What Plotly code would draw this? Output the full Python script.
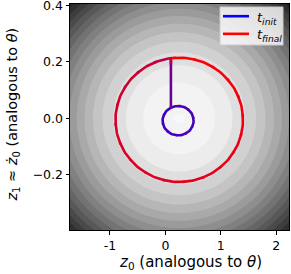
import numpy as np
import plotly.graph_objects as go

# ---- data ----
X_RANGE = [-1.72, 2.23]
Y_RANGE = [-0.395, 0.405]
X_TICKS = [-1, 0, 1, 2]
Y_TICKS = [-0.2, 0.0, 0.2, 0.4]

# energy landscape: E = (z0 - c0)^2 + (K * (z1 - c1))^2
ENERGY_CENTER = (0.25, 0.0)
ENERGY_K = 5.1
LEVEL_START = 0.42
LEVEL_STEP = 0.5

# trajectory: small initial orbit, a jump, then final orbit
SMALL_CENTER = (0.23, -0.008)
SMALL_RADII = (0.28, 0.052)
BIG_CENTER = (0.25, -0.005)
BIG_RADII = (1.15, 0.22)
JUMP_X = 0.10
T_SMALL = (0.24, 0.30)
T_JUMP = (0.36, 0.52)
T_BIG = (0.78, 1.0)

X_TITLE = "<i>z</i><sub>0</sub> (analogous to <i>θ</i>)"
Y_TITLE = "<i>z</i><sub>1</sub> ≈ <i>ż</i><sub>0</sub> (analogous to <i>θ</i>)"
LEGEND_LABELS = ["<i>t</i><sub><i>init</i></sub>", "<i>t</i><sub><i>final</i></sub>"]
LEGEND_COLORS = ["#0000ff", "#ff0000"]

FONT = "DejaVu Sans"

# ---- background contours ----
gx = np.linspace(X_RANGE[0], X_RANGE[1], 300)
gy = np.linspace(Y_RANGE[0], Y_RANGE[1], 300)
GX, GY = np.meshgrid(gx, gy)
E = (GX - ENERGY_CENTER[0]) ** 2 + (ENERGY_K * (GY - ENERGY_CENTER[1])) ** 2

fig = go.Figure()
fig.add_trace(go.Contour(
    x=gx, y=gy, z=E,
    zmin=0, zmax=9.8,
    colorscale=[[0, "rgb(243,243,243)"], [1, "rgb(0,0,0)"]],
    contours=dict(start=LEVEL_START, end=30, size=LEVEL_STEP, coloring="fill"),
    line=dict(width=0),
    showscale=False, hoverinfo="skip",
))
fig.add_shape(type="circle", xref="x", yref="y",
              x0=ENERGY_CENTER[0] - 0.09, x1=ENERGY_CENTER[0] + 0.09,
              y0=ENERGY_CENTER[1] - 0.09 / ENERGY_K, y1=ENERGY_CENTER[1] + 0.09 / ENERGY_K,
              fillcolor="rgb(248,248,248)", line=dict(width=0), layer="above")

# ---- trajectory ----
def ellipse_angle(center, radii, x, y):
    return np.arctan2((y - center[1]) / radii[1], (x - center[0]) / radii[0])

ys_small = SMALL_CENTER[1] + SMALL_RADII[1] * np.sqrt(1 - ((JUMP_X - SMALL_CENTER[0]) / SMALL_RADII[0]) ** 2)
ys_big = BIG_CENTER[1] + BIG_RADII[1] * np.sqrt(1 - ((JUMP_X - BIG_CENTER[0]) / BIG_RADII[0]) ** 2)

a0 = ellipse_angle(SMALL_CENTER, SMALL_RADII, JUMP_X, ys_small)
phs = np.linspace(a0, a0 + 2 * np.pi, 81)
px = list(SMALL_CENTER[0] + SMALL_RADII[0] * np.cos(phs))
py = list(SMALL_CENTER[1] + SMALL_RADII[1] * np.sin(phs))
pt = list(np.linspace(T_SMALL[0], T_SMALL[1], 81))

nj = 9
px += [JUMP_X] * nj
py += list(np.linspace(ys_small, ys_big, nj))
pt += list(np.linspace(T_JUMP[0], T_JUMP[1], nj))

b0 = ellipse_angle(BIG_CENTER, BIG_RADII, JUMP_X, ys_big)
phb = np.linspace(b0, b0 + 2 * np.pi, 161)
px += list(BIG_CENTER[0] + BIG_RADII[0] * np.cos(phb))
py += list(BIG_CENTER[1] + BIG_RADII[1] * np.sin(phb))
pt += list(np.linspace(T_BIG[0], T_BIG[1], 161))

def tcolor(t):
    return "rgb(%d,0,%d)" % (round(255 * t), round(255 * (1 - t)))

CH = 8
for s in range(0, len(px) - 1, CH):
    e = min(s + CH + 2, len(px))
    tm = float(np.mean(pt[s:e]))
    fig.add_trace(go.Scatter(
        x=px[s:e], y=py[s:e], mode="lines",
        line=dict(color=tcolor(tm), width=2.6),
        showlegend=False, hoverinfo="skip"))

axis_common = dict(
    showgrid=False, zeroline=False, showline=True, linecolor="black", linewidth=1,
    mirror=True, ticks="outside", ticklen=3.5, tickwidth=1, tickcolor="black",
    tickfont=dict(family=FONT, size=12.5, color="black"), automargin=False,
    ticklabeloverflow="allow",
)
fig.update_xaxes(range=X_RANGE, tickvals=X_TICKS, ticktext=[str(v) for v in X_TICKS],
                 ticklabelstandoff=0, **axis_common)
fig.update_yaxes(range=Y_RANGE, tickvals=Y_TICKS, tickformat=".1f", **axis_common)

fig.add_annotation(text=X_TITLE, xref="paper", yref="paper", x=0.548, y=-0.142,
                   xanchor="center", yanchor="middle", showarrow=False,
                   font=dict(family=FONT, size=15, color="black"))
fig.add_annotation(text=Y_TITLE, xref="paper", yref="paper", x=-0.262, y=0.509,
                   xanchor="center", yanchor="middle", showarrow=False, textangle=-90,
                   font=dict(family=FONT, size=14.5, color="black"))

# ---- legend (drawn in paper coordinates) ----
fig.add_shape(type="rect", xref="paper", yref="paper", x0=0.685, x1=0.9726, y0=0.8186, y1=0.9867,
              fillcolor="rgba(255,255,255,0.8)", line=dict(color="#cccccc", width=1), layer="above")
LEG_Y = [0.946, 0.868]
for lab, col, yy in zip(LEGEND_LABELS, LEGEND_COLORS, LEG_Y):
    fig.add_shape(type="line", xref="paper", yref="paper", x0=0.6986, x1=0.8174, y0=yy, y1=yy,
                  line=dict(color=col, width=2.6), layer="above")
    fig.add_annotation(text=lab, xref="paper", yref="paper", x=0.846, y=yy - 0.008,
                       xanchor="left", yanchor="middle", showarrow=False,
                       font=dict(family=FONT, size=13, color="black"))

fig.update_layout(
    template="none",
    width=291, height=274,
    margin=dict(l=70, r=2, t=4, b=44, pad=0, autoexpand=False),
    paper_bgcolor="white", plot_bgcolor="white",
    showlegend=False,
)

fig.write_html("out.html", config={"displayModeBar": False},
               post_script="document.body.style.margin='0';document.body.style.overflow='hidden';")
